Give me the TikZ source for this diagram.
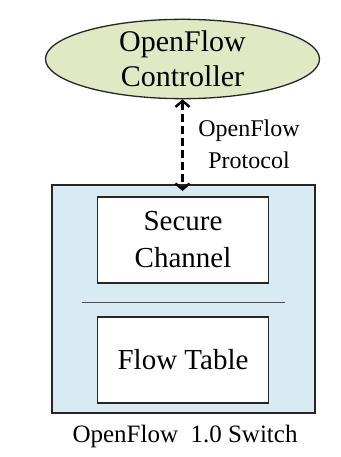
\documentclass[tikz,border=0pt]{standalone}
\usepackage{fontspec}
\setmainfont{Liberation Serif}
\usetikzlibrary{shapes.geometric,arrows.meta}
\definecolor{ctrlfill}{HTML}{E0E8C4}
\definecolor{switchfill}{HTML}{D8EBF3}
\begin{document}
\begin{tikzpicture}[x=1pt,y=-1pt,
  ctrl/.style={ellipse,draw=black!85,line width=1.3pt,fill=ctrlfill,
    minimum width=274pt,minimum height=74pt,inner sep=0pt,
    align=center,font=\fontsize{30}{35}\selectfont},
  unit/.style={draw=black!85,line width=1.4pt,fill=white,
    minimum width=171pt,minimum height=86pt,inner sep=0pt,
    align=center,font=\fontsize{29}{37}\selectfont},
  caption/.style={inner sep=0pt,align=center},
  link/.style={dash pattern=on 8pt off 4pt,line width=2.8pt,
    {Straight Barb[length=6pt,width=14pt,line width=2.4pt]}-{Straight Barb[length=6pt,width=14pt,line width=2.4pt]}}]
  \useasboundingbox (0,0) rectangle (340,457);
  % switch enclosure
  \node[draw=black!85,line width=1.3pt,fill=switchfill,minimum width=263pt,
    minimum height=228pt,inner sep=0pt] (sw) at (183.5,299) {};
  % controller
  \node[ctrl] (ctrl) at (182.5,59) {OpenFlow\\Controller};
  % switch components
  \node[unit] (sec) at (183,240) {Secure\\Channel};
  \node[unit] (tab) at (183,360) {Flow Table};
  \coordinate (sepL) at (82,302);
  \coordinate (sepR) at (285,302);
  \draw[black!70,line width=0.8pt] (sepL) -- (sepR);
  % control channel, its lower tip reaching just inside the switch
  \coordinate (swin) at (182.5,191);
  \draw[link] (ctrl.south) -- (swin);
  \node[caption,font=\fontsize{24}{32}\selectfont] (proto) at (249,144) {OpenFlow\\Protocol};
  \node[caption,font=\fontsize{25}{30}\selectfont] (lbl) at (185,436) {OpenFlow\ \ 1.0 Switch};
\end{tikzpicture}
\end{document}
